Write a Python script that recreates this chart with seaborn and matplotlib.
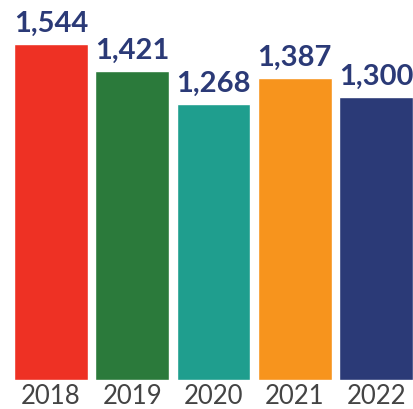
import matplotlib
matplotlib.use('Agg')
import matplotlib.pyplot as plt
import seaborn as sns
import pandas as pd

years = ['2018', '2019', '2020', '2021', '2022']
values = [1544, 1421, 1268, 1387, 1300]
colors = ['#EE3124', '#2B7A3B', '#1F9E8E', '#F7941D', '#2B3A77']

sns.set_style('white')
plt.rcParams['font.family'] = ['Lato', 'DejaVu Sans']

df = pd.DataFrame({'year': years, 'value': values})

fig = plt.figure(figsize=(4.14, 4.10), dpi=100)
ax = fig.add_axes([14 / 414, 29 / 410, 399 / 414, 336 / 410])

sns.barplot(data=df, x='year', y='value', hue='year', palette=colors,
            width=0.91, legend=False, ax=ax, saturation=1)

for c in ax.containers:
    ax.bar_label(c, labels=[f'{int(v):,}' for v in c.datavalues], padding=6,
                 fontsize=21, fontweight='bold', color='#2B3A77')

ax.set_xlim(-0.455, 4.455)
ax.set_ylim(0, 1544)
ax.set_xlabel('')
ax.set_ylabel('')
ax.set_yticks([])
ax.tick_params(axis='x', length=0, pad=2, labelsize=18.5, labelcolor='#444444')
sns.despine(left=True, bottom=True)

fig.savefig('out.png', dpi=100)
